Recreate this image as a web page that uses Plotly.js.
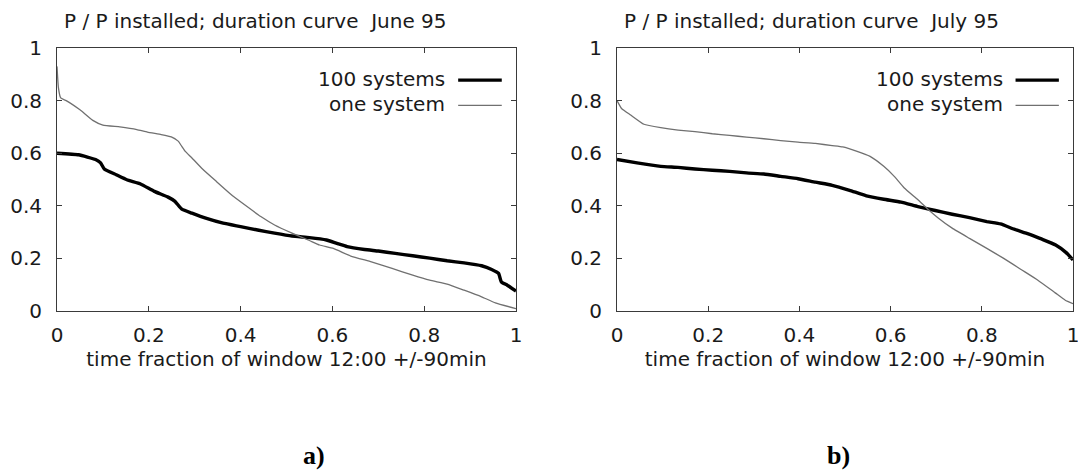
<!DOCTYPE html>
<html>
<head>
<meta charset="utf-8">
<script src="https://cdn.plot.ly/plotly-3.0.1.min.js"></script>
<style>
  html, body { margin: 0; padding: 0; background: #fff; }
  #chart { width: 1078px; height: 472px; }
</style>
</head>
<body>
<div id="chart"></div>
<script>
// ---- data ----
const panelTitles = ["P / P installed; duration curve\u00a0 June 95", "P / P installed; duration curve\u00a0 July 95"];
const panelLetters = ["a)", "b)"];
const seriesNames = ["100 systems", "one system"];
const xAxisTitle = "time fraction of window 12:00 +/-90min";
const tickVals = [0, 0.2, 0.4, 0.6, 0.8, 1];
const tickText = ["0", "0.2", "0.4", "0.6", "0.8", "1"];

// June 95 - 100 systems
const juneX100 = [0, .047, .084, .095, .103, .129, .152, .182, .212, .242, .257, .272, .294, .324, .362, .40, .437, .474, .512, .55, .587, .61, .632, .67, .70, .737, .775, .812, .85, .887, .925, .947, .962, .968, .981, 1.0];
const juneY100 = [.60, .594, .576, .563, .54, .518, .499, .483, .455, .433, .417, .387, .372, .353, .334, .321, .308, .296, .285, .279, .27, .257, .245, .234, .228, .219, .21, .201, .191, .183, .172, .158, .143, .111, .098, .076];
// June 95 - one system
const juneX1 = [0, .003, .008, .02, .05, .078, .1, .137, .174, .197, .227, .249, .264, .279, .294, .317, .347, .384, .414, .444, .474, .512, .55, .572, .602, .64, .685, .73, .775, .812, .85, .887, .925, .955, 1.0];
const juneY1 = [.93, .85, .81, .80, .765, .725, .707, .70, .69, .68, .671, .662, .646, .608, .582, .54, .493, .436, .397, .359, .327, .296, .268, .251, .238, .209, .187, .162, .136, .117, .102, .079, .054, .031, .009];
// July 95 - 100 systems
const julyX100 = [0, .044, .096, .134, .171, .209, .247, .284, .322, .359, .397, .435, .472, .51, .547, .585, .623, .66, .698, .735, .773, .811, .841, .871, .902, .932, .962, .985, 1.0];
const julyY100 = [.576, .563, .55, .546, .54, .535, .531, .525, .521, .512, .503, .49, .478, .459, .438, .425, .414, .397, .382, .368, .355, .34, .331, .311, .293, .273, .251, .222, .194];
// July 95 - one system
const julyX1 = [0, .01, .03, .059, .096, .134, .171, .209, .247, .284, .322, .359, .397, .435, .472, .495, .525, .555, .585, .608, .63, .66, .683, .705, .735, .773, .811, .848, .886, .923, .961, .983, 1.0];
const julyY1 = [.80, .77, .745, .71, .697, .688, .682, .674, .668, .661, .655, .648, .642, .637, .629, .624, .608, .588, .55, .512, .468, .423, .385, .353, .315, .276, .238, .20, .158, .117, .069, .041, .028];

// ---- styles ----
const FONT = "DejaVu Sans, Arial, sans-serif";
const TXT = "#1a1a1a";
const AX = "#3a3a3a";
const thick = { color: "#000000", width: 3.4, shape: "spline", smoothing: 0.4 };
const thin = { color: "#707070", width: 1.3, shape: "spline", smoothing: 0.4 };
const thickKey = { color: "#000000", width: 3.4 };
const thinKey = { color: "#707070", width: 1.3 };

const W = 1078, H = 472;
const xDom1 = [57 / W, 516 / W];
const xDom2 = [617 / W, 1073 / W];
const yDom = [1 - 311 / H, 1 - 48 / H];

function axisBase(extra) {
  return Object.assign({
    range: [0, 1],
    tickmode: "array",
    tickvals: tickVals,
    ticktext: tickText,
    ticks: "inside",
    ticklen: 5,
    tickwidth: 1,
    tickcolor: AX,
    showline: true,
    linecolor: AX,
    linewidth: 1,
    mirror: "allticks",
    showgrid: false,
    zeroline: false,
    fixedrange: true,
    ticklabeloverflow: "allow",
    tickfont: { family: FONT, size: 20, color: TXT }
  }, extra);
}

const traces = [
  { x: juneX100, y: juneY100, xaxis: "x", yaxis: "y", mode: "lines", name: seriesNames[0], line: thick, showlegend: false },
  { x: juneX1, y: juneY1, xaxis: "x", yaxis: "y", mode: "lines", name: seriesNames[1], line: thin, showlegend: false },
  { x: julyX100, y: julyY100, xaxis: "x2", yaxis: "y2", mode: "lines", name: seriesNames[0], line: thick, showlegend: false },
  { x: julyX1, y: julyY1, xaxis: "x2", yaxis: "y2", mode: "lines", name: seriesNames[1], line: thin, showlegend: false }
];

const xTitle = { text: xAxisTitle, font: { family: FONT, size: 20, color: TXT }, standoff: 4 };

const annotations = [];
const shapes = [];
[["x", "y"], ["x2", "y2"]].forEach((ax, i) => {
  annotations.push({
    xref: ax[0] + " domain", yref: "paper", x: 0.011, y: 1 - 21 / H,
    xanchor: "left", yanchor: "middle", showarrow: false,
    text: panelTitles[i], font: { family: FONT, size: 20, color: TXT }
  });
  const rows = [0.882, 0.787];
  const lineRows = [0.878, 0.782];
  seriesNames.forEach((nm, k) => {
    annotations.push({
      xref: ax[0] + " domain", yref: ax[1] + " domain", x: 0.85, y: rows[k],
      xanchor: "right", yanchor: "middle", showarrow: false,
      text: nm, font: { family: FONT, size: 20, color: TXT }
    });
    shapes.push({
      type: "line", xref: ax[0] + " domain", yref: ax[1] + " domain",
      x0: 0.874, x1: 0.969, y0: lineRows[k], y1: lineRows[k],
      line: k === 0 ? thickKey : thinKey
    });
  });
});
annotations.push({
  xref: "paper", yref: "paper", x: 314 / W, y: 1 - 455 / H, xanchor: "center", yanchor: "middle",
  showarrow: false, text: "<b>" + panelLetters[0] + "</b>",
  font: { family: "Liberation Serif, Times New Roman, serif", size: 26, color: "#000" }
});
annotations.push({
  xref: "paper", yref: "paper", x: 838 / W, y: 1 - 455 / H, xanchor: "center", yanchor: "middle",
  showarrow: false, text: "<b>" + panelLetters[1] + "</b>",
  font: { family: "Liberation Serif, Times New Roman, serif", size: 26, color: "#000" }
});

const layout = {
  width: W, height: H,
  margin: { l: 0, r: 0, t: 0, b: 0 },
  paper_bgcolor: "#ffffff",
  plot_bgcolor: "#ffffff",
  font: { family: FONT, size: 20, color: TXT },
  showlegend: false,
  xaxis: axisBase({ domain: xDom1, anchor: "y", title: xTitle, ticklabelstandoff: 6 }),
  yaxis: axisBase({ domain: yDom, anchor: "x", ticklabelstandoff: 10 }),
  xaxis2: axisBase({ domain: xDom2, anchor: "y2", title: xTitle, ticklabelstandoff: 6 }),
  yaxis2: axisBase({ domain: yDom, anchor: "x2", ticklabelstandoff: 10 }),
  annotations: annotations,
  shapes: shapes
};

Plotly.newPlot("chart", traces, layout, { staticPlot: true, displayModeBar: false, responsive: false });
</script>
</body>
</html>
